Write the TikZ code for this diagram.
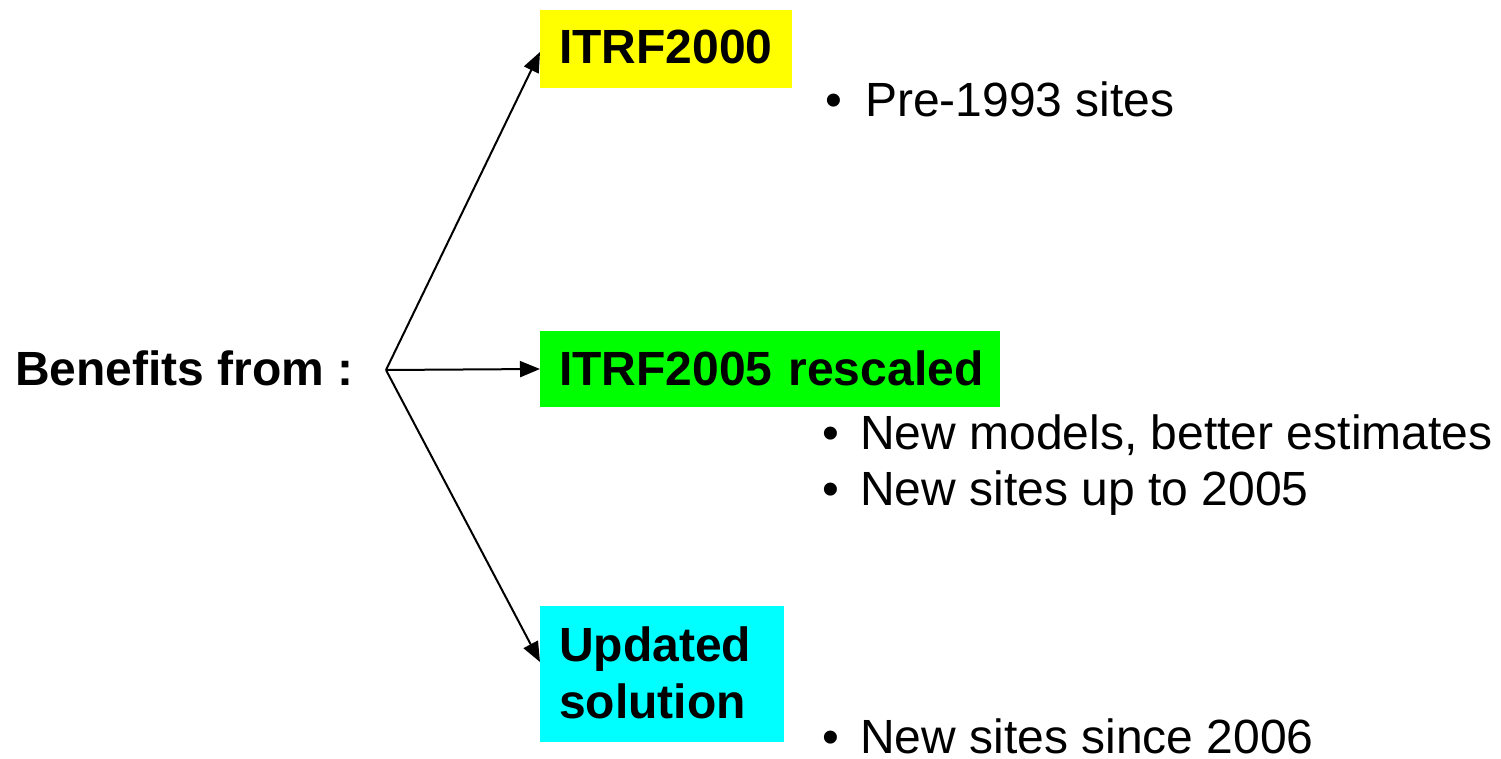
\documentclass[tikz,border=0pt]{standalone}
\usepackage{fontspec}
\setmainfont{Liberation Sans}
\usetikzlibrary{arrows.meta}
\definecolor{boxyellow}{HTML}{FFFF00}
\definecolor{boxgreen}{HTML}{00FF00}
\definecolor{boxcyan}{HTML}{00FFFF}
\tikzset{
  box/.style={anchor=base west, inner xsep=19pt, inner ysep=0pt, align=left,
    font=\fontsize{48}{57}\selectfont\bfseries},
  bul/.style={anchor=base, inner sep=0pt, font=\fontsize{48}{57}\selectfont},
  btext/.style={anchor=base west, inner sep=0pt, font=\fontsize{48}{57}\selectfont},
  conn/.style={line width=2pt, -{Triangle[length=20pt,width=16pt]}}
}
\begin{document}
\begin{tikzpicture}[x=1pt,y=-1pt]
\useasboundingbox (0,0) rectangle (1501,759);
\node[btext, font=\fontsize{48}{57}\selectfont\bfseries] (ben) at (15,385) {Benefits from :};
\coordinate (j) at (386,370);
\node[box, fill=boxyellow, text width=214pt, text height=54pt, text depth=24pt] (yel) at (540,64) {ITRF2000};
\node[box, fill=boxgreen, text width=422pt, text height=54pt, text depth=22pt] (grn) at (540,385) {\mbox{ITRF2005 rescaled}};
\node[box, fill=boxcyan, text width=206pt, text height=55pt, text depth=81pt] (cyn) at (540,661) {Updated\\solution};
\draw[conn] (j) -- ([yshift=-3pt]yel.west);
\draw[conn] (j) -- (grn.west);
\draw[conn] (j) -- ([yshift=12pt]cyn.west);
\node[bul] (b1) at (834,117) {•};
\node[btext] (t1) at (865,117) {Pre-1993 sites};
\node[bul] (b2) at (831,449) {•};
\node[btext] (t2) at (860,449) {New models, better estimates};
\node[bul] (b3) at (831,505) {•};
\node[btext] (t3) at (860,505) {New sites up to 2005};
\node[bul, text depth=0pt] (b4) at (831,753) {•};
\node[btext, text depth=0pt] (t4) at (860,753) {New sites since 2006};
\end{tikzpicture}
\end{document}
